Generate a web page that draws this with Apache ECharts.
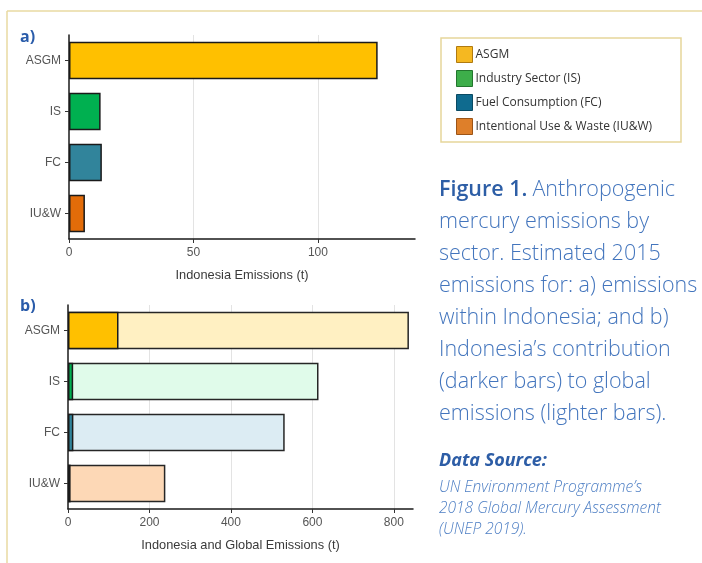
<!DOCTYPE html>
<html>
<head>
<meta charset="utf-8">
<script src="https://cdn.jsdelivr.net/npm/echarts@6/dist/echarts.min.js"></script>
<style>
  html, body { margin: 0; padding: 0; background: #fff; }
  #chart { width: 702px; height: 563px; }
</style>
</head>
<body>
<div id="chart"></div>
<script>
// Sectors, top to bottom
const sectors = ['ASGM', 'IS', 'FC', 'IU&W'];
const sectorNames = ['ASGM', 'Industry Sector (IS)', 'Fuel Consumption (FC)', 'Intentional Use & Waste (IU&W)'];
// Estimated 2015 emissions (tonnes)
const indonesiaEmissions = [124, 12.7, 13.2, 6.4];
const globalEmissions = [837, 615, 532, 239];
// Axis ticks
const ticksA = [0, 50, 100];
const ticksB = [0, 200, 400, 600, 800];

const darkColors = ['#FFC000', '#00B050', '#31849B', '#E36C09'];
const lightColors = ['#FFF0C2', '#E0FBEA', '#DCECF3', '#FDD8B6'];
const legendColors = ['#F5B821', '#3DAE4A', '#0F6B8F', '#DE7F2A'];
const legendBorders = ['#B07A10', '#23762E', '#0A4A63', '#9C5416'];

const chart = echarts.init(document.getElementById('chart'), null, { renderer: 'canvas' });

const axisFont = { color: '#555', fontSize: 12, fontFamily: 'Liberation Sans' };

function valueAxis(gridIndex, ticks, max, name) {
  return {
    type: 'value', gridIndex, min: ticks[0], max, interval: ticks[1] - ticks[0],
    name, nameLocation: 'middle', nameGap: 30,
    nameTextStyle: { color: '#3a3a3a', fontSize: 12.8, fontFamily: 'Liberation Sans' },
    axisLine: { show: true, lineStyle: { color: '#1a1a1a', width: 1.5 } },
    axisTick: { show: true, length: 4, lineStyle: { color: '#333' } },
    axisLabel: Object.assign({ margin: 8, showMaxLabel: false }, axisFont),
    splitLine: { show: true, showMinLine: false, showMaxLine: false, lineStyle: { color: '#e3e3e3', width: 1 } }
  };
}
function categoryAxis(gridIndex) {
  return {
    type: 'category', gridIndex, data: sectors, inverse: true,
    axisLine: { show: true, lineStyle: { color: '#1a1a1a', width: 1.5 } },
    axisTick: { show: true, alignWithLabel: true, length: 4, lineStyle: { color: '#333' } },
    axisLabel: Object.assign({ margin: 8 }, axisFont)
  };
}

// Panel a: one series per sector so each appears in the legend
const panelA = sectors.map((s, i) => ({
  name: sectorNames[i],
  type: 'bar', xAxisIndex: 0, yAxisIndex: 0,
  barWidth: '74%', barGap: '-100%',
  data: sectors.map((_, j) => (j === i ? indonesiaEmissions[j] : '-')),
  itemStyle: { color: darkColors[i], borderColor: '#1a1a1a', borderWidth: 1.5 }
}));

// Panel b: global totals with Indonesia's share drawn on top
const panelB = [
  {
    name: 'Global', type: 'bar', xAxisIndex: 1, yAxisIndex: 1,
    barWidth: '74%', barGap: '-100%',
    data: globalEmissions.map((v, i) => ({ value: v, itemStyle: { color: lightColors[i] } })),
    itemStyle: { borderColor: '#262626', borderWidth: 1.5 }
  },
  {
    name: 'Indonesia', type: 'bar', xAxisIndex: 1, yAxisIndex: 1,
    barWidth: '74%', barGap: '-100%',
    data: indonesiaEmissions.map((v, i) => ({ value: v, itemStyle: { color: darkColors[i] } })),
    itemStyle: { borderColor: '#1a1a1a', borderWidth: 1.5 }
  }
];

const captionLines = [
  '{b|Figure 1.} {r|Anthropogenic}',
  '{r|mercury emissions by}',
  '{r|sector. Estimated 2015}',
  '{r|emissions for: a) emissions}',
  '{r|within Indonesia; and b)}',
  '{r|Indonesia\u2019s contribution}',
  '{r|(darker bars) to global}',
  '{r|emissions (lighter bars).}'
];

chart.setOption({
  animation: false,
  backgroundColor: '#fff',
  grid: [
    { left: 69, right: 287, top: 35, bottom: 324 },
    { left: 68, right: 289, top: 305, bottom: 54 }
  ],
  xAxis: [
    valueAxis(0, ticksA, 139, 'Indonesia Emissions (t)'),
    valueAxis(1, ticksB, 847, 'Indonesia and Global Emissions (t)')
  ],
  yAxis: [categoryAxis(0), categoryAxis(1)],
  legend: {
    orient: 'vertical', left: 441, top: 38,
    padding: [8, 10, 8, 15],
    itemWidth: 16, itemHeight: 16, itemGap: 7,
    icon: 'rect',
    textStyle: { color: '#333', fontSize: 12, fontFamily: 'Open Sans', padding: [0, 0, 0, -2] },
    data: sectorNames.map((n, i) => ({
      name: n,
      itemStyle: { color: legendColors[i], borderColor: legendBorders[i], borderWidth: 1 }
    }))
  },
  title: [
    { text: 'a)', left: 20, top: 29, padding: 0, textStyle: { color: '#2A5CAA', fontSize: 16, fontWeight: 'bold', fontFamily: 'Open Sans' } },
    { text: 'b)', left: 20, top: 298, padding: 0, textStyle: { color: '#2A5CAA', fontSize: 16, fontWeight: 'bold', fontFamily: 'Open Sans' } },
    {
      text: captionLines.join('\n'), left: 439, top: 174, padding: 0,
      textStyle: {
        rich: {
          b: { color: '#2D5EA6', fontSize: 21.5, fontWeight: 600, fontFamily: 'Open Sans', lineHeight: 32 },
          r: { color: '#4375BD', fontSize: 21.5, fontWeight: 300, fontFamily: 'Open Sans', lineHeight: 32 }
        }
      }
    },
    {
      text: 'Data Source:', left: 439, top: 452, padding: 0,
      textStyle: { color: '#2D5DA6', fontSize: 18, fontWeight: 'bold', fontStyle: 'italic', fontFamily: 'Open Sans' }
    },
    {
      text: 'UN Environment Programme\u2019s\n2018 Global Mercury Assessment\n(UNEP 2019).',
      left: 439, top: 477, padding: 0,
      textStyle: { color: '#4E7FC4', fontSize: 15.5, fontWeight: 300, fontStyle: 'italic', fontFamily: 'Open Sans', lineHeight: 21 }
    }
  ],
  graphic: [
    { type: 'line', shape: { x1: 7, y1: 11, x2: 702, y2: 11 }, style: { stroke: '#E8DAA2', lineWidth: 1.5 } },
    { type: 'line', shape: { x1: 7, y1: 11, x2: 7, y2: 563 }, style: { stroke: '#E8DAA2', lineWidth: 1.5 } },
    { type: 'rect', shape: { x: 441, y: 38, width: 240, height: 104 }, style: { fill: 'none', stroke: '#E6D69A', lineWidth: 1.5 } }
  ],
  series: panelA.concat(panelB)
});
</script>
</body>
</html>
